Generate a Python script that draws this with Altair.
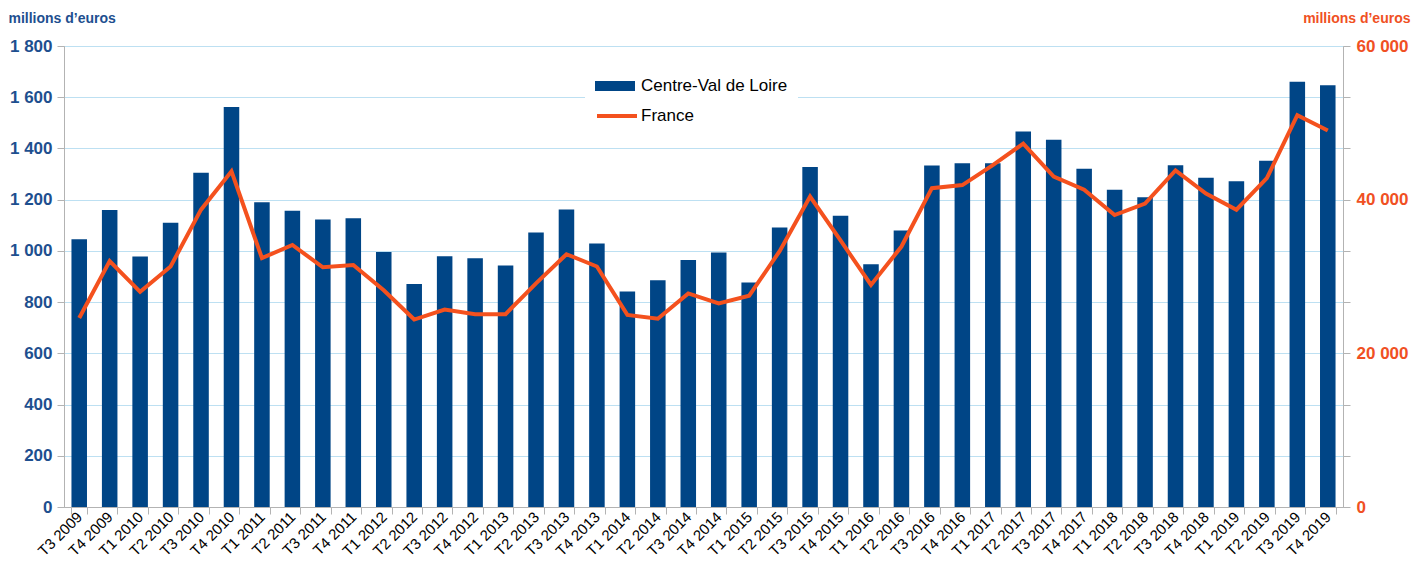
import altair as alt
import pandas as pd

trimestres = [
    "T3 2009", "T4 2009",
    "T1 2010", "T2 2010", "T3 2010", "T4 2010",
    "T1 2011", "T2 2011", "T3 2011", "T4 2011",
    "T1 2012", "T2 2012", "T3 2012", "T4 2012",
    "T1 2013", "T2 2013", "T3 2013", "T4 2013",
    "T1 2014", "T2 2014", "T3 2014", "T4 2014",
    "T1 2015", "T2 2015", "T3 2015", "T4 2015",
    "T1 2016", "T2 2016", "T3 2016", "T4 2016",
    "T1 2017", "T2 2017", "T3 2017", "T4 2017",
    "T1 2018", "T2 2018", "T3 2018", "T4 2018",
    "T1 2019", "T2 2019", "T3 2019", "T4 2019",
]

centre_val_de_loire = [
    1045, 1160,
    978, 1110, 1305, 1562,
    1190, 1157, 1123, 1127,
    996, 871, 979, 971,
    943, 1072, 1162, 1029,
    841, 885, 964, 994,
    877, 1091, 1328, 1137,
    948, 1080, 1333, 1342,
    1342, 1466, 1434, 1321,
    1239, 1209, 1334, 1286,
    1272, 1352, 1660, 1647,
]

france = [
    24600, 32000,
    28000, 31300, 38700, 43700,
    32400, 34100, 31200, 31500,
    28200, 24400, 25700, 25100,
    25100, 29100, 32900, 31300,
    25000, 24500, 27800, 26500,
    27500, 33300, 40400, 34700,
    28900, 33900, 41500, 41900,
    44500, 47300, 43000, 41300,
    38000, 39500, 43800, 40800,
    38700, 42800, 51000, 49000,
]

left_ticks = [0, 200, 400, 600, 800, 1000, 1200, 1400, 1600, 1800]
right_ticks = [i * 20000 / 3 for i in range(10)]

BLUE = "#004586"
ORANGE = "#f4511e"
BLUE_TXT = "#1e4f8f"
ORANGE_TXT = "#f05023"
GREY = "#b3b3b3"

df = pd.DataFrame({
    "trimestre": trimestres,
    "centre": centre_val_de_loire,
    "france": france,
})

x_enc = alt.X(
    "trimestre:N", sort=trimestres, title=None,
    scale=alt.Scale(paddingInner=0.49, paddingOuter=0.245),
    axis=alt.Axis(labelAngle=-45, tickBand="extent", labelFontSize=15,
                  labelAlign="right", labelBaseline="middle",
                  labelColor="#000000", tickSize=7, labelPadding=0,
                  domainColor=GREY, tickColor=GREY, grid=False),
)

bars = alt.Chart(df).transform_calculate(
    serie="'Centre-Val de Loire'"
).mark_bar(color=BLUE).encode(
    x=x_enc,
    y=alt.Y(
        "centre:Q",
        scale=alt.Scale(domain=[0, 1800], nice=False),
        axis=alt.Axis(
            values=left_ticks,
            labelExpr="replace(format(datum.value, ','), ',', ' ')",
            labelFontSize=17, labelFontWeight="bold", labelColor=BLUE_TXT,
            labelPadding=5, tickSize=7, tickColor=GREY, domainColor=GREY,
            grid=True, gridColor="#bde0f2", gridWidth=1,
            title="millions d’euros", titleAngle=0, titleX=-56, titleY=-24,
            titleAlign="left", titleBaseline="alphabetic",
            titleFontSize=14, titleFontWeight="bold", titleColor=BLUE_TXT,
        ),
    ),
    fill=alt.Fill(
        "serie:N",
        scale=alt.Scale(domain=["Centre-Val de Loire"], range=[BLUE]),
        legend=alt.Legend(
            title=None, orient="none", legendX=521, legendY=10,
            symbolType="M-1,-0.25H1V0.25H-1Z", symbolSize=1600,
            symbolStrokeWidth=0, labelFontSize=17, labelColor="#000000",
            labelOffset=6, fillColor="white", padding=10,
        ),
    ),
)

line = alt.Chart(df).transform_calculate(
    serie2="'France'"
).mark_line(strokeWidth=4, strokeJoin="miter").encode(
    x=x_enc,
    y=alt.Y(
        "france:Q",
        scale=alt.Scale(domain=[0, 60000], nice=False),
        axis=alt.Axis(
            orient="right", values=right_ticks,
            labelExpr="(round(datum.value) % 20000 == 0) ? replace(format(round(datum.value), ','), ',', ' ') : ''",
            labelFontSize=17, labelFontWeight="bold", labelColor=ORANGE_TXT,
            labelPadding=6, tickSize=7, tickColor=GREY, domainColor=GREY,
            grid=False,
            title="millions d’euros", titleAngle=0, titleX=67, titleY=-24,
            titleAlign="right", titleBaseline="alphabetic",
            titleFontSize=14, titleFontWeight="bold", titleColor=ORANGE_TXT,
        ),
    ),
    stroke=alt.Stroke(
        "serie2:N",
        scale=alt.Scale(domain=["France"], range=[ORANGE]),
        legend=alt.Legend(
            title=None, orient="none", legendX=531, legendY=48,
            symbolType="stroke", symbolSize=1600, symbolStrokeWidth=4,
            labelFontSize=17, labelColor="#000000", labelOffset=2,
            padding=0,
        ),
    ),
)

chart = alt.layer(bars, line).resolve_scale(
    y="independent", fill="independent", stroke="independent"
).properties(
    width=1279, height=461,
    padding={"left": 56, "top": 38, "right": 70, "bottom": 56},
    autosize=alt.AutoSizeParams(type="none"),
).configure(
    font="Liberation Sans",
).configure_view(
    stroke=GREY,
)

chart.save("out.html", embed_options={"renderer": "svg", "actions": False})
